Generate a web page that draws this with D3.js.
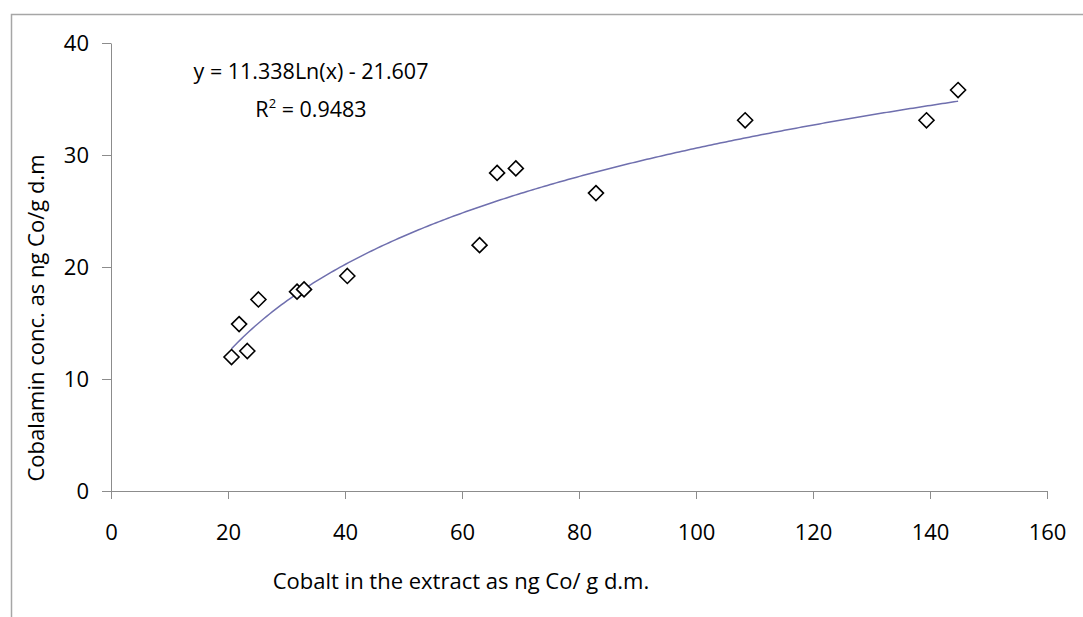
<!DOCTYPE html>
<html>
<head>
<meta charset="utf-8">
<script src="https://cdn.jsdelivr.net/npm/d3@7"></script>
<style>
  body { margin: 0; background: #fff; }
  text { font-family: "Open Sans", sans-serif; fill: #000; }
</style>
</head>
<body>
<div id="chart"></div>
<script>
// data
const cobalt    = [20.6, 21.9, 23.3, 25.2, 31.8, 33.0, 40.4, 63.0, 66.0, 69.2, 82.9, 108.4, 139.4, 144.8];
const cobalamin = [11.96, 14.9, 12.5, 17.1, 17.8, 18.0, 19.2, 21.95, 28.4, 28.8, 26.6, 33.1, 33.1, 35.8];
const xTicks = [0, 20, 40, 60, 80, 100, 120, 140, 160];
const yTicks = [0, 10, 20, 30, 40];
// logarithmic trend line as printed on the chart
const trendA = 11.338, trendB = -21.607;
const eqLabel = "y = 11.338Ln(x) - 21.607";
const r2Value = "0.9483";
const xTitle = "Cobalt in the extract as ng Co/ g d.m.";
const yTitle = "Cobalamin conc. as ng Co/g d.m";

const width = 1083, height = 617;

const svg = d3.select("#chart")
  .append("svg")
    .attr("width", width)
    .attr("height", height);

// chart frame (cut off at right and bottom)
svg.append("path")
  .attr("d", `M11.5,${height} V14.5 H${width}`)
  .attr("fill", "none")
  .attr("stroke", "#a6a6a6")
  .attr("stroke-width", 1.5);

const x = d3.scaleLinear().domain([0, 160]).range([111, 1047]);
const y = d3.scaleLinear().domain([0, 40]).range([491, 43]);

// axes
const xAxis = svg.append("g")
  .attr("transform", `translate(0,${y(0)})`)
  .call(d3.axisBottom(x).tickValues(xTicks).tickSize(8).tickSizeOuter(0).tickPadding(25));
const yAxis = svg.append("g")
  .attr("transform", `translate(${x(0)},0)`)
  .call(d3.axisLeft(y).tickValues(yTicks).tickSize(9).tickSizeOuter(0).tickPadding(13));

[xAxis, yAxis].forEach(a => {
  a.selectAll("path, line").attr("stroke", "#8c8c8c");
  a.selectAll("text").attr("font-size", "22px").attr("font-family", "Open Sans, sans-serif").attr("fill", "#000");
});

// trend line over the range of the data
const ext = d3.extent(cobalt);
const trend = d3.range(ext[0], ext[1], 0.5).concat([ext[1]])
  .map(v => [v, trendA * Math.log(v) + trendB]);
svg.append("path")
  .datum(trend)
  .attr("fill", "none")
  .attr("stroke", "#6f6fae")
  .attr("stroke-width", 1.5)
  .attr("d", d3.line().x(d => x(d[0])).y(d => y(d[1])));

// diamond markers
const pts = cobalt.map((c, i) => ({x: c, y: cobalamin[i]}));
svg.append("g")
  .selectAll("path")
  .data(pts)
  .join("path")
    .attr("transform", d => `translate(${x(d.x)},${y(d.y)})`)
    .attr("d", "M0,-7.5L7.5,0L0,7.5L-7.5,0Z")
    .attr("fill", "#fff")
    .attr("stroke", "#000")
    .attr("stroke-width", 1.6);

// equation label
svg.append("text")
  .attr("x", 311).attr("y", 79)
  .attr("text-anchor", "middle")
  .attr("font-size", "21.5px")
  .text(eqLabel);
const r2 = svg.append("text")
  .attr("x", 311).attr("y", 117)
  .attr("text-anchor", "middle")
  .attr("font-size", "21.5px");
r2.append("tspan").text("R");
r2.append("tspan").attr("font-size", "13px").attr("dy", -9).text("2");
r2.append("tspan").attr("dy", 9).text(" = " + r2Value);

// axis titles
svg.append("text")
  .attr("x", 461).attr("y", 589)
  .attr("text-anchor", "middle")
  .attr("font-size", "22px")
  .text(xTitle);
svg.append("text")
  .attr("transform", "translate(44,318) rotate(-90)")
  .attr("text-anchor", "middle")
  .attr("font-size", "22px")
  .text(yTitle);
</script>
</body>
</html>
